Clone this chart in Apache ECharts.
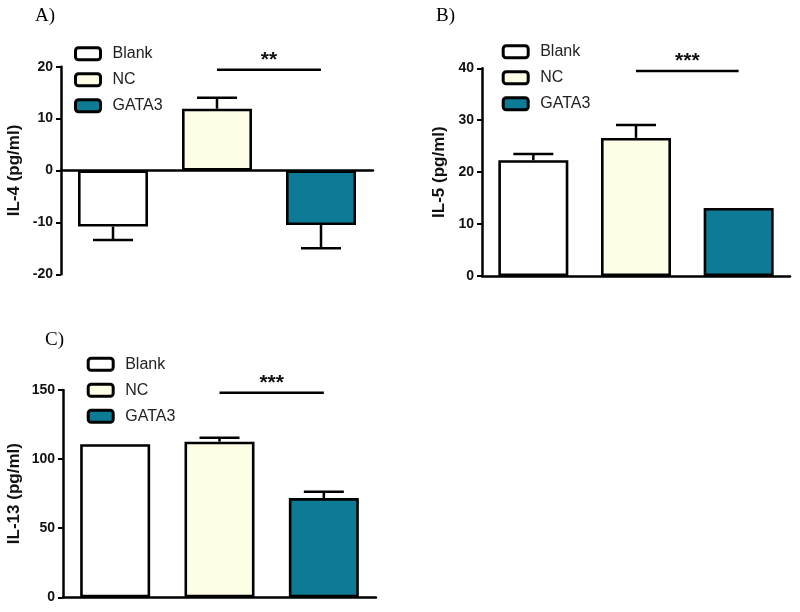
<!DOCTYPE html>
<html>
<head>
<meta charset="utf-8">
<script src="https://cdn.jsdelivr.net/npm/echarts@6/dist/echarts.min.js"></script>
<style>
  html, body { margin: 0; padding: 0; background: #fff; }
  #chart { width: 800px; height: 612px; }
</style>
</head>
<body>
<div id="chart"></div>
<script>
const groups = ["Blank", "NC", "GATA3"];
const groupColors = ["#ffffff", "#fefde6", "#0e7b96"];

const panelLabels = ["A)", "B)", "C)"];
const axisTitles = ["IL-4 (pg/ml)", "IL-5 (pg/ml)", "IL-13 (pg/ml)"];

// means and error (SEM)
const il4Means = [-10.8, 11.9, -10.5];
const il4Errors = [2.6, 2.1, 4.5];
const il5Means = [22.3, 26.6, 13.1];
const il5Errors = [1.2, 2.5, 0];
const il13Means = [110.8, 112.6, 71.8];
const il13Errors = [0, 2.8, 4.6];

// y axis ranges
const yMins = [-20, 0, 0];
const yMaxs = [20, 40, 150];
const yIntervals = [10, 10, 50];

// significance bar between NC and GATA3
const sigLevels = [19.4, 39.5, 148];
const sigLabels = ["**", "***", "***"];

const means = [il4Means, il5Means, il13Means];
const errors = [il4Errors, il5Errors, il13Errors];

const grids = [
  { left: 61, top: 66.7, width: 312, height: 207.6 },
  { left: 482, top: 68.3, width: 308, height: 207.7 },
  { left: 63, top: 390, width: 313, height: 207.3 }
];
const nameGaps = [38, 34, 40];
const legendPos = [
  { left: 69, top: 40.7 },
  { left: 496.7, top: 38.7 },
  { left: 81.7, top: 351.3 }
];
const titlePos = [
  { left: 30, top: 2 },
  { left: 431, top: 2 },
  { left: 40, top: 326 }
];

const chart = echarts.init(document.getElementById("chart"));

const sans = "Liberation Sans";
const xAxes = [];
const yAxes = [];
const series = [];

grids.forEach((g, p) => {
  xAxes.push({
    type: "category",
    gridIndex: p,
    data: groups,
    z: 10,
    axisLine: { onZero: true, lineStyle: { color: "#000", width: 2.5 } },
    axisTick: { alignWithLabel: true, length: 5, lineStyle: { color: "#000", width: 2 } },
    axisLabel: { show: false }
  });
  yAxes.push({
    type: "value",
    gridIndex: p,
    min: yMins[p],
    max: yMaxs[p],
    interval: yIntervals[p],
    name: axisTitles[p],
    nameLocation: "middle",
    nameRotate: 90,
    nameGap: nameGaps[p],
    nameTextStyle: { fontFamily: sans, fontWeight: "bold", fontSize: 17, color: "#111" },
    z: 10,
    axisLine: { show: true, lineStyle: { color: "#000", width: 2.5 } },
    axisTick: { show: true, length: 5, lineStyle: { color: "#000", width: 2 } },
    axisLabel: { fontFamily: sans, fontWeight: "bold", fontSize: 14, color: "#111", margin: 8 },
    splitLine: { show: false }
  });

  groups.forEach((name, i) => {
    const data = groups.map((_, j) => (j === i ? means[p][i] : "-"));
    series.push({
      name: name,
      type: "bar",
      xAxisIndex: p,
      yAxisIndex: p,
      data: data,
      barWidth: 70,
      barGap: "-100%",
      itemStyle: { color: groupColors[i], borderColor: "#000", borderWidth: 2.6 },
      emphasis: { disabled: true }
    });
  });

  // error bars, drawn outward from the bar end
  series.push({
    type: "custom",
    xAxisIndex: p,
    yAxisIndex: p,
    z: 5,
    data: means[p].map((m, i) => [i, m, errors[p][i]]),
    encode: { x: 0, y: 1 },
    renderItem: (params, api) => {
      const idx = api.value(0);
      const m = api.value(1);
      const e = api.value(2);
      if (!e) return { type: "group", children: [] };
      const end = m < 0 ? m - e : m + e;
      const a = api.coord([idx, m]);
      const b = api.coord([idx, end]);
      const st = { stroke: "#000", lineWidth: 2.5 };
      return {
        type: "group",
        children: [
          { type: "line", shape: { x1: a[0], y1: a[1], x2: b[0], y2: b[1] }, style: st },
          { type: "line", shape: { x1: b[0] - 20, y1: b[1], x2: b[0] + 20, y2: b[1] }, style: st }
        ]
      };
    }
  });

  // significance line and stars
  series.push({
    type: "custom",
    xAxisIndex: p,
    yAxisIndex: p,
    z: 5,
    clip: false,
    data: [[1, 2, sigLevels[p]]],
    encode: { x: [0, 1], y: 2 },
    renderItem: (params, api) => {
      const a = api.coord([api.value(0), api.value(2)]);
      const b = api.coord([api.value(1), api.value(2)]);
      return {
        type: "group",
        children: [
          { type: "line", shape: { x1: a[0], y1: a[1], x2: b[0], y2: b[1] }, style: { stroke: "#000", lineWidth: 2.5 } },
          {
            type: "text",
            x: (a[0] + b[0]) / 2,
            y: a[1] + 1,
            style: {
              text: sigLabels[p],
              fill: "#111",
              font: "bold 21px " + sans,
              align: "center",
              verticalAlign: "bottom"
            }
          }
        ]
      };
    }
  });
});

const option = {
  backgroundColor: "#fff",
  animation: false,
  title: panelLabels.map((t, p) => ({
    text: t,
    left: titlePos[p].left,
    top: titlePos[p].top,
    textStyle: { fontFamily: "Liberation Serif", fontWeight: "normal", fontSize: 19, color: "#000" }
  })),
  legend: legendPos.map((pos) => ({
    data: groups,
    orient: "vertical",
    left: pos.left,
    top: pos.top,
    icon: "roundRect",
    itemWidth: 25,
    itemHeight: 12,
    itemGap: 10,
    selectedMode: false,
    itemStyle: { borderColor: "#000", borderWidth: 3 },
    textStyle: { fontFamily: sans, fontSize: 16, color: "#222", lineHeight: 14, padding: [0, 0, 0, 7] }
  })),
  grid: grids.map((g) => Object.assign({ containLabel: false }, g)),
  xAxis: xAxes,
  yAxis: yAxes,
  series: series
};

chart.setOption(option);
</script>
</body>
</html>
